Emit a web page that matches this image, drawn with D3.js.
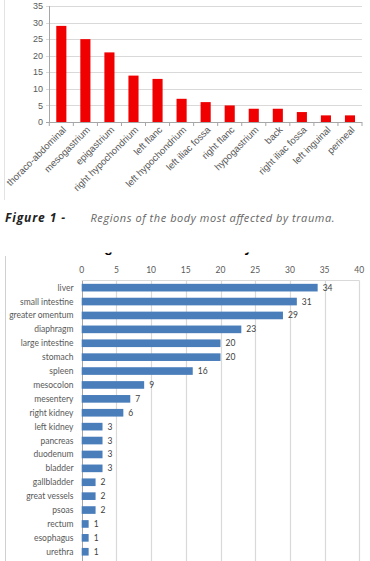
<!DOCTYPE html>
<html>
<head>
<meta charset="utf-8">
<script src="https://cdn.jsdelivr.net/npm/d3@7"></script>
<style>
  body { margin: 0; background: #fff; }
  svg { display: block; }
</style>
</head>
<body>
<svg id="chart" width="370" height="561"></svg>
<script>
'use strict'

// figure 1: regions
const regions = ['thoraco-abdominal', 'mesogastrium', 'epigastrium', 'right hypochondrium',
  'left flanc', 'left hypochondrium', 'left iliac fossa', 'right flanc', 'hypogastrium',
  'back', 'right iliac fossa', 'left inguinal', 'perineal']
const regionCounts = [29, 25, 21, 14, 13, 7, 6, 5, 4, 4, 3, 2, 2]
const regionTicks = [0, 5, 10, 15, 20, 25, 30, 35]

// figure 2: organs
const organs = ['liver', 'small intestine', 'greater omentum', 'diaphragm', 'large intestine',
  'stomach', 'spleen', 'mesocolon', 'mesentery', 'right kidney', 'left kidney', 'pancreas',
  'duodenum', 'bladder', 'gallbladder', 'great vessels', 'psoas', 'rectum', 'esophagus', 'urethra']
const organCounts = [34, 31, 29, 23, 20, 20, 16, 9, 7, 6, 3, 3, 3, 3, 2, 2, 2, 1, 1, 1]
const organTicks = [0, 5, 10, 15, 20, 25, 30, 35, 40]

const svg = d3.select('#chart')
const grid = '#d9d9d9'
const axisGray = '#a6a6a6'
const textGray = '#595959'

// ---------- top chart ----------
let topG = svg.append('g')
const topFont = 'Liberation Sans, Arial, sans-serif'

topG.append('line')
  .attr('x1', 4.5).attr('x2', 4.5).attr('y1', 0).attr('y2', 200)
  .attr('stroke', '#e3e3e3')

let x1 = d3.scaleBand()
  .domain(regions)
  .range([49.3, 362])
  .paddingInner(0.58)
  .paddingOuter(0.29)
let y1 = d3.scaleLinear()
  .domain([0, 35])
  .range([122, 6])

topG.append('g')
  .selectAll('line')
  .data(regionTicks)
  .enter()
  .append('line')
  .attr('x1', 46).attr('x2', 362)
  .attr('y1', function (d) { return Math.round(y1(d)) + 0.5 })
  .attr('y2', function (d) { return Math.round(y1(d)) + 0.5 })
  .attr('stroke', function (d) { return d === 0 ? axisGray : grid })

topG.append('line')
  .attr('x1', 49.5).attr('x2', 49.5).attr('y1', y1(35)).attr('y2', y1(0))
  .attr('stroke', axisGray)

topG.append('g')
  .selectAll('text')
  .data(regionTicks)
  .enter()
  .append('text')
  .attr('x', 43)
  .attr('y', function (d) { return y1(d) })
  .attr('dy', '0.35em')
  .attr('text-anchor', 'end')
  .attr('font-family', topFont)
  .attr('font-size', 9)
  .attr('fill', textGray)
  .text(function (d) { return d })

// category boundary ticks
let step1 = x1.step()
topG.append('g')
  .selectAll('line')
  .data(d3.range(regions.length + 1))
  .enter()
  .append('line')
  .attr('x1', function (i) { return 49.3 + i * step1 })
  .attr('x2', function (i) { return 49.3 + i * step1 })
  .attr('y1', y1(0)).attr('y2', y1(0) + 4)
  .attr('stroke', axisGray)

topG.append('g')
  .selectAll('rect')
  .data(regions)
  .enter()
  .append('rect')
  .attr('x', function (d) { return x1(d) })
  .attr('width', x1.bandwidth())
  .attr('y', function (d, i) { return y1(regionCounts[i]) })
  .attr('height', function (d, i) { return y1(0) - y1(regionCounts[i]) })
  .attr('fill', '#f00000')

topG.append('g')
  .selectAll('text')
  .data(regions)
  .enter()
  .append('text')
  .attr('transform', function (d) {
    return 'translate(' + (x1(d) + x1.bandwidth() / 2 + 3) + ',' + 128 + ') rotate(-45)'
  })
  .attr('dy', '0.35em')
  .attr('text-anchor', 'end')
  .attr('font-family', topFont)
  .attr('font-size', 9.6)
  .attr('fill', textGray)
  .text(function (d) { return d })

// caption
let cap = svg.append('g')
  .attr('font-family', 'Open Sans, sans-serif')
  .attr('font-style', 'italic')
  .attr('font-size', 11)
cap.append('text')
  .attr('x', 5).attr('y', 221.5)
  .attr('font-weight', 'bold')
  .attr('font-size', 12)
  .attr('fill', '#222')
  .attr('textLength', 60)
  .attr('lengthAdjust', 'spacing')
  .text('Figure 1 -')
cap.append('text')
  .attr('x', 90.5).attr('y', 221.5)
  .attr('fill', '#666')
  .attr('textLength', 244)
  .attr('lengthAdjust', 'spacing')
  .text('Regions of the body most affected by trauma.')

// ---------- bottom chart ----------
let botG = svg.append('g')
const botFont = 'Lato, Carlito, sans-serif'

botG.append('line')
  .attr('x1', 5.5).attr('x2', 5.5).attr('y1', 256).attr('y2', 561)
  .attr('stroke', '#d0d0d0')

// title, cut off by the crop of the figure
svg.append('clipPath')
  .attr('id', 'titleClip')
  .append('rect')
  .attr('x', 0).attr('y', 252.5).attr('width', 370).attr('height', 10)
botG.append('text')
  .attr('clip-path', 'url(#titleClip)')
  .attr('x', 88).attr('y', 252)
  .attr('font-family', 'Liberation Sans, Arial, sans-serif')
  .attr('font-weight', 'bold')
  .attr('font-size', 14)
  .attr('fill', '#000')
  .text('Organs most affected by trauma')

let x2 = d3.scaleLinear()
  .domain([0, 40])
  .range([81.7, 359.3])
let y2 = d3.scaleBand()
  .domain(organs)
  .range([280.7, 558.7])
  .paddingInner(0.45)
  .paddingOuter(0.225)

botG.append('g')
  .selectAll('line')
  .data(organTicks)
  .enter()
  .append('line')
  .attr('x1', function (d) { return Math.round(x2(d)) + 0.5 })
  .attr('x2', function (d) { return Math.round(x2(d)) + 0.5 })
  .attr('y1', 280.5).attr('y2', 561)
  .attr('stroke', function (d) { return d === 0 ? axisGray : grid })
  .attr('stroke-width', function (d) { return d === 0 ? 1 : 1.2 })

botG.append('line')
  .attr('x1', x2(0)).attr('x2', x2(40)).attr('y1', 280.5).attr('y2', 280.5)
  .attr('stroke', grid)

botG.append('g')
  .selectAll('text')
  .data(organTicks)
  .enter()
  .append('text')
  .attr('x', function (d) { return x2(d) })
  .attr('y', 270)
  .attr('dy', '0.35em')
  .attr('text-anchor', 'middle')
  .attr('font-family', botFont)
  .attr('font-size', 8.5)
  .attr('fill', textGray)
  .text(function (d) { return d })

botG.append('g')
  .selectAll('rect')
  .data(organs)
  .enter()
  .append('rect')
  .attr('x', x2(0))
  .attr('y', function (d) { return y2(d) })
  .attr('width', function (d, i) { return x2(organCounts[i]) - x2(0) })
  .attr('height', y2.bandwidth())
  .attr('fill', '#4a7ebb')

botG.append('g')
  .selectAll('text')
  .data(organs)
  .enter()
  .append('text')
  .attr('x', 73.5)
  .attr('y', function (d) { return y2(d) + y2.bandwidth() / 2 })
  .attr('dy', '0.35em')
  .attr('text-anchor', 'end')
  .attr('font-family', botFont)
  .attr('font-size', 8.5)
  .attr('fill', textGray)
  .text(function (d) { return d })

botG.append('g')
  .selectAll('text')
  .data(organs)
  .enter()
  .append('text')
  .attr('x', function (d, i) { return x2(organCounts[i]) + 5 })
  .attr('y', function (d) { return y2(d) + y2.bandwidth() / 2 })
  .attr('dy', '0.35em')
  .attr('font-family', botFont)
  .attr('font-size', 8.5)
  .attr('fill', '#404040')
  .text(function (d, i) { return organCounts[i] })
</script>
</body>
</html>
